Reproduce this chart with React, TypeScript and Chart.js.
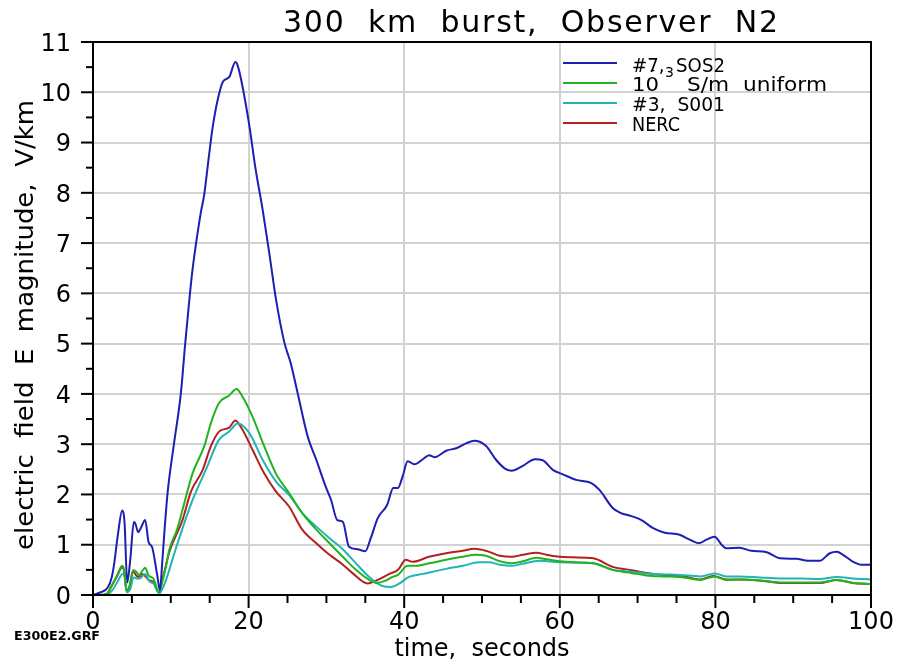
import React, { useEffect, useRef } from "react";
import { Chart, registerables } from "chart.js";

Chart.register(...registerables);

// ---- data (time in seconds, E magnitude in V/km) ----
const sos2Time = [0, 0.9, 1.9, 2.4, 2.7, 3.2, 3.75, 4.05, 4.4, 4.8, 5.25, 5.45, 5.8, 6.2, 6.7, 7.15, 7.6, 8.25, 8.6, 8.9, 9.2, 9.6, 10.4, 11.3, 11.85, 12.4, 12.8, 13.85, 14.3, 14.9, 15.35, 16.0, 16.7, 17.5, 18.3, 18.6, 19.2, 20.1, 20.9, 21.8, 22.65, 23.5, 24.6, 25.4, 26.3, 27.6, 28.7, 29.9, 30.6, 31.4, 32.1, 32.9, 34.0, 35.0, 35.7, 36.6, 37.8, 38.6, 39.2, 39.8, 40.45, 41.3, 42.4, 43.2, 43.9, 45.4, 46.7, 48.0, 49.0, 50.5, 51.8, 52.9, 53.8, 55.25, 56.8, 57.8, 59.1, 60.4, 62.1, 64.0, 65.1, 66.8, 67.7, 69.2, 70.5, 72.0, 73.5, 75.4, 76.7, 77.9, 78.85, 79.9, 80.8, 81.4, 83.1, 84.6, 86.6, 88.3, 90.4, 91.9, 93.4, 94.7, 95.6, 96.4, 97.7, 98.8, 100];
const sos2Value = [0, 0.05, 0.15, 0.35, 0.6, 1.2, 1.68, 1.45, 0.25, 0.72, 1.45, 1.42, 1.25, 1.35, 1.49, 1.05, 0.95, 0.4, 0.1, 0.65, 1.3, 2.05, 3.0, 4.02, 5.0, 5.9, 6.48, 7.6, 7.97, 8.73, 9.27, 9.83, 10.21, 10.3, 10.6, 10.53, 10.13, 9.33, 8.47, 7.67, 6.81, 5.9, 5.02, 4.62, 4.02, 3.15, 2.69, 2.16, 1.89, 1.49, 1.46, 0.96, 0.91, 0.87, 1.13, 1.53, 1.79, 2.13, 2.13, 2.36, 2.66, 2.6, 2.7, 2.78, 2.74, 2.87, 2.92, 3.02, 3.07, 2.97, 2.69, 2.52, 2.47, 2.57, 2.7, 2.68, 2.49, 2.4, 2.29, 2.23, 2.09, 1.73, 1.64, 1.57, 1.49, 1.33, 1.24, 1.2, 1.1, 1.03, 1.1, 1.16, 1.0, 0.93, 0.94, 0.88, 0.85, 0.73, 0.72, 0.68, 0.68, 0.83, 0.86, 0.8, 0.66, 0.6, 0.6];

const uniformTime = [0, 0.9, 1.8, 2.4, 3.1, 3.75, 4.0, 4.3, 4.7, 5.15, 5.6, 5.9, 6.3, 6.7, 7.15, 7.8, 8.45, 8.9, 9.5, 9.8, 10.8, 11.5, 12.8, 14.3, 15.15, 16.2, 17.5, 18.45, 19.2, 20.5, 22.0, 23.5, 25.2, 26.9, 28.7, 30.4, 32.1, 33.8, 35.5, 36.5, 37.5, 38.5, 39.2, 40.45, 41.5, 43.2, 45.4, 47.5, 49.2, 50.5, 52.3, 53.8, 55.25, 57.0, 58.3, 60.0, 61.7, 64.3, 66.8, 68.6, 70.0, 71.1, 73.3, 75.4, 78.1, 79.9, 81.4, 83.1, 85.7, 88.3, 90.8, 93.4, 95.6, 97.7, 100];
const uniformValue = [0, 0, 0.02, 0.19, 0.39, 0.58, 0.49, 0.09, 0.19, 0.49, 0.46, 0.39, 0.47, 0.54, 0.39, 0.32, 0.06, 0.26, 0.66, 0.9, 1.3, 1.69, 2.42, 2.96, 3.42, 3.82, 3.97, 4.1, 3.95, 3.55, 2.96, 2.42, 2.03, 1.63, 1.3, 1.03, 0.76, 0.5, 0.3, 0.24, 0.28, 0.36, 0.4, 0.58, 0.58, 0.63, 0.7, 0.76, 0.8, 0.78, 0.67, 0.63, 0.67, 0.74, 0.71, 0.67, 0.65, 0.63, 0.5, 0.45, 0.42, 0.39, 0.37, 0.36, 0.3, 0.37, 0.3, 0.31, 0.29, 0.25, 0.25, 0.25, 0.3, 0.24, 0.22];

const sos1Time = [0, 1.2, 2.0, 2.6, 3.2, 3.8, 4.05, 4.35, 4.8, 5.2, 5.6, 6.0, 6.7, 7.2, 7.8, 8.5, 9.0, 9.5, 10.6, 12.8, 14.5, 16.2, 17.5, 18.6, 20.1, 21.8, 23.5, 25.2, 26.9, 28.7, 30.4, 32.1, 33.8, 35.5, 37.2, 38.3, 39.4, 40.6, 42.4, 45.4, 47.5, 49.6, 50.9, 52.3, 53.8, 55.25, 57.4, 60.0, 64.3, 66.8, 68.6, 71.1, 73.3, 75.4, 78.1, 79.9, 81.4, 83.1, 85.7, 88.3, 90.8, 93.4, 95.6, 97.7, 100];
const sos1Value = [0, 0, 0.02, 0.12, 0.28, 0.42, 0.38, 0.05, 0.12, 0.35, 0.33, 0.33, 0.42, 0.28, 0.22, 0.03, 0.15, 0.35, 0.9, 1.89, 2.49, 3.09, 3.25, 3.41, 3.22, 2.69, 2.26, 1.99, 1.63, 1.36, 1.13, 0.91, 0.63, 0.36, 0.18, 0.16, 0.23, 0.36, 0.42, 0.52, 0.58, 0.65, 0.65, 0.6, 0.58, 0.62, 0.68, 0.65, 0.63, 0.5, 0.47, 0.43, 0.41, 0.4, 0.37, 0.43, 0.37, 0.37, 0.35, 0.33, 0.33, 0.32, 0.36, 0.33, 0.31];

const nercTime = [0, 1.0, 1.8, 2.4, 3.1, 3.75, 4.0, 4.3, 4.7, 5.15, 5.6, 5.9, 6.3, 6.7, 7.15, 7.8, 8.45, 9.0, 9.8, 11.5, 12.6, 14.1, 15.15, 16.2, 17.5, 18.3, 19.2, 20.5, 22.0, 23.5, 25.2, 26.9, 28.7, 30.4, 31.9, 33.4, 35.3, 36.6, 38.1, 39.2, 40.2, 41.1, 43.2, 45.4, 47.5, 49.0, 50.5, 52.3, 53.8, 55.25, 57.0, 58.3, 60.0, 61.7, 64.3, 66.8, 68.6, 71.1, 73.3, 75.4, 78.1, 79.7, 81.4, 83.1, 85.7, 88.3, 90.8, 93.4, 95.6, 97.7, 100];
const nercValue = [0, 0, 0.03, 0.18, 0.38, 0.55, 0.48, 0.08, 0.16, 0.47, 0.38, 0.36, 0.42, 0.38, 0.3, 0.25, 0.05, 0.35, 0.85, 1.49, 2.06, 2.49, 2.96, 3.25, 3.33, 3.47, 3.29, 2.89, 2.42, 2.06, 1.76, 1.3, 1.03, 0.8, 0.63, 0.43, 0.23, 0.3, 0.42, 0.5, 0.7, 0.66, 0.76, 0.83, 0.88, 0.92, 0.88, 0.78, 0.76, 0.8, 0.84, 0.8, 0.76, 0.75, 0.73, 0.56, 0.51, 0.44, 0.4, 0.39, 0.31, 0.38, 0.31, 0.31, 0.29, 0.24, 0.24, 0.24, 0.3, 0.24, 0.22];

const seriesColors = ["#1e1eb4", "#20b420", "#20b4b4", "#b42020"];
const xMajorTicks = [0, 20, 40, 60, 80, 100];
const yMajorTicks = [0, 1, 2, 3, 4, 5, 6, 7, 8, 9, 10, 11];

const titleText = "300  km  burst,  Observer  N2";
const xTitle = "time,  seconds";
const yTitle = "electric  field  E  magnitude,  V/km";
const fileLabel = "E300E2.GRF";

const FONT = "'DejaVu Sans', 'Liberation Sans', sans-serif";

export default function App() {
  const ref = useRef<HTMLCanvasElement | null>(null);

  useEffect(() => {
    document.body.style.margin = "0";
    const canvas = ref.current;
    if (!canvas) return;

    const pts = (t: number[], v: number[]) => t.map((x, i) => ({ x, y: v[i] }));

    const fitText = (ctx: CanvasRenderingContext2D, text: string, x: number, y: number, width: number, center = false) => {
      const w = ctx.measureText(text).width;
      ctx.save();
      ctx.translate(x, y);
      ctx.scale(width / w, 1);
      ctx.textAlign = "left";
      ctx.fillText(text, center ? -w / 2 : 0, 0);
      ctx.restore();
    };

    const spacedText = (ctx: CanvasRenderingContext2D, text: string, x: number, y: number, width: number) => {
      const chars = Array.from(text);
      const widths = chars.map((c) => ctx.measureText(c).width);
      const base = widths.reduce((a, b) => a + b, 0);
      const extra = (width - base) / (chars.length - 1);
      let cx = x;
      ctx.textAlign = "left";
      chars.forEach((c, i) => {
        ctx.fillText(c, cx, y);
        cx += widths[i] + extra;
      });
    };

    const decor = {
      id: "decor",
      afterDraw(chart: any) {
        const { ctx, chartArea: a, scales } = chart;
        const xs = scales.x;
        const ys = scales.y;
        ctx.save();
        ctx.fillStyle = "#000";
        ctx.strokeStyle = "#000";

        // frame
        ctx.lineWidth = 2;
        ctx.strokeRect(a.left, a.top, a.right - a.left, a.bottom - a.top);

        // y ticks
        ctx.lineWidth = 2;
        ys.ticks.forEach((tk: any) => {
          const py = ys.getPixelForValue(tk.value);
          const major = Math.abs(tk.value - Math.round(tk.value)) < 1e-6;
          const len = major ? 12 : 7;
          ctx.beginPath();
          ctx.moveTo(a.left - len, py);
          ctx.lineTo(a.left, py);
          ctx.stroke();
        });
        ctx.font = `24px ${FONT}`;
        ctx.textAlign = "right";
        ctx.textBaseline = "alphabetic";
        yMajorTicks.forEach((v) => {
          const py = ys.getPixelForValue(v);
          ctx.fillText(String(v), a.left - 22, py + 8.7);
        });

        // x ticks
        xs.ticks.forEach((tk: any) => {
          const px = xs.getPixelForValue(tk.value);
          const major = tk.value % 20 === 0;
          const len = major ? 13 : 8;
          ctx.beginPath();
          ctx.moveTo(px, a.bottom);
          ctx.lineTo(px, a.bottom + len);
          ctx.stroke();
        });
        ctx.textAlign = "center";
        xMajorTicks.forEach((v) => {
          const px = xs.getPixelForValue(v);
          ctx.fillText(String(v), px, a.bottom + 34);
        });

        // axis titles
        ctx.font = `24px ${FONT}`;
        ctx.textAlign = "center";
        ctx.fillText(xTitle, (a.left + a.right) / 2, a.bottom + 61);
        ctx.save();
        ctx.translate(33, 325);
        ctx.rotate(-Math.PI / 2);
        fitText(ctx, yTitle, 0, 0, 450, true);
        ctx.restore();

        // title
        ctx.font = `30px ${FONT}`;
        spacedText(ctx, titleText, 283, 32, 495);

        // file label
        ctx.font = `bold 12px ${FONT}`;
        fitText(ctx, fileLabel, 14, 640, 86);

        // legend
        const legendY = [63, 83, 103, 123];
        legendY.forEach((ly, i) => {
          ctx.strokeStyle = seriesColors[i];
          ctx.lineWidth = 2;
          ctx.beginPath();
          ctx.moveTo(563, ly);
          ctx.lineTo(617, ly);
          ctx.stroke();
        });
        ctx.fillStyle = "#000";
        ctx.font = `20px ${FONT}`;
        fitText(ctx, "#7,  SOS2", 632, 72, 93);
        fitText(ctx, "10", 632, 91, 27);
        fitText(ctx, "S/m  uniform", 687, 91, 140);
        fitText(ctx, "#3,  S001", 632, 111, 93);
        fitText(ctx, "NERC", 632, 131, 48);
        ctx.font = `14px ${FONT}`;
        ctx.textAlign = "left";
        ctx.fillText("-", 650, 75);
        ctx.fillText("3", 665, 77);

        ctx.restore();
      },
    };

    const mk = (label: string, t: number[], v: number[], color: string) => ({
      label,
      data: pts(t, v),
      borderColor: color,
      backgroundColor: color,
      borderWidth: 2,
      pointRadius: 0,
      fill: false,
      cubicInterpolationMode: "monotone" as const,
    });

    const chart = new Chart(canvas, {
      type: "line",
      data: {
        datasets: [
          mk("#7, SOS2", sos2Time, sos2Value, seriesColors[0]),
          mk("10-3 S/m uniform", uniformTime, uniformValue, seriesColors[1]),
          mk("#3, S001", sos1Time, sos1Value, seriesColors[2]),
          mk("NERC", nercTime, nercValue, seriesColors[3]),
        ],
      },
      options: {
        responsive: false,
        animation: false,
        devicePixelRatio: 1,
        layout: { padding: { left: 0, right: 26, top: 42, bottom: 0 } },
        plugins: {
          legend: { display: false },
          tooltip: { enabled: false },
          title: { display: false },
        },
        scales: {
          x: {
            type: "linear",
            min: 0,
            max: 100,
            ticks: { display: false, stepSize: 5 },
            grid: {
              drawTicks: false,
              lineWidth: 2,
              color: (c: any) => {
                const v = c.tick ? c.tick.value : 0;
                return v % 20 === 0 && v > 0 && v < 100 ? "#d2d2d2" : "rgba(0,0,0,0)";
              },
            },
            border: { display: false },
            afterFit: (s: any) => {
              s.height = 71;
            },
          },
          y: {
            type: "linear",
            min: 0,
            max: 11,
            ticks: { display: false, stepSize: 0.5 },
            grid: {
              drawTicks: false,
              lineWidth: 2,
              color: (c: any) => {
                const v = c.tick ? c.tick.value : 0;
                return Math.abs(v - Math.round(v)) < 1e-6 && v > 0 && v < 11 ? "#d2d2d2" : "rgba(0,0,0,0)";
              },
            },
            border: { display: false },
            afterFit: (s: any) => {
              s.width = 93;
            },
          },
        },
      } as any,
      plugins: [decor],
    });

    return () => chart.destroy();
  }, []);

  return <canvas ref={ref} width={897} height={666} style={{ display: "block", width: 897, height: 666 }} />;
}
